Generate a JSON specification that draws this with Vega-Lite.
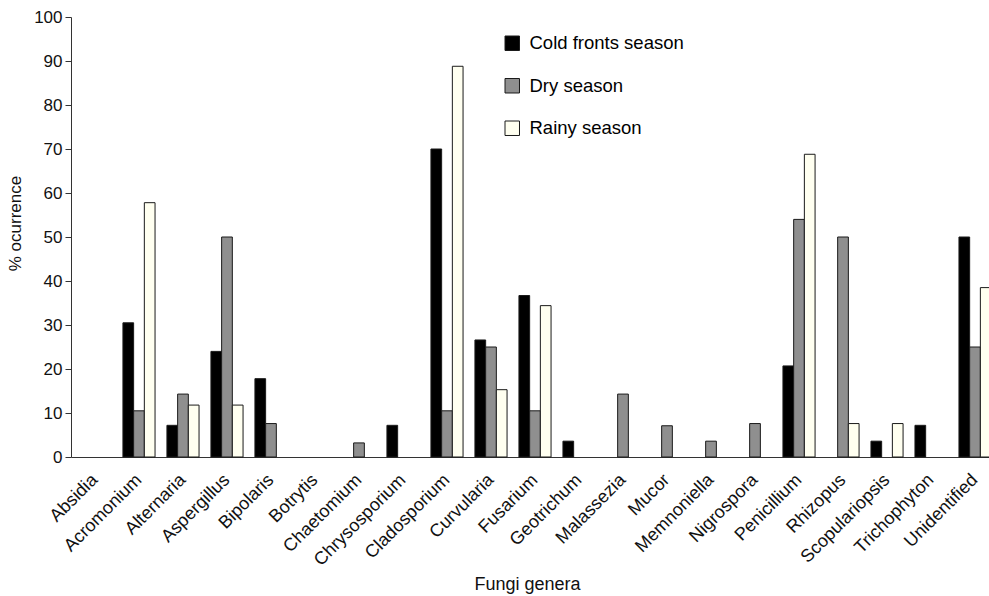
{
  "$schema": "https://vega.github.io/schema/vega-lite/v6.json",
  "width": 918,
  "height": 440,
  "autosize": {"type": "none"},
  "padding": {"left": 71, "top": 17, "right": 0, "bottom": 139},
  "background": "white",
  "config": {
    "view": {"stroke": null},
    "font": "Liberation Sans",
    "axis": {"domainColor": "#333", "tickColor": "#333", "labelColor": "#111", "titleColor": "#111", "grid": false}
  },
  "data": {
    "values": [
      {"genus": "Absidia", "season": "Cold fronts season", "value": 0},
      {"genus": "Absidia", "season": "Dry season", "value": 0},
      {"genus": "Absidia", "season": "Rainy season", "value": 0},
      {"genus": "Acromonium", "season": "Cold fronts season", "value": 30.5},
      {"genus": "Acromonium", "season": "Dry season", "value": 10.5},
      {"genus": "Acromonium", "season": "Rainy season", "value": 57.8},
      {"genus": "Alternaria", "season": "Cold fronts season", "value": 7.2},
      {"genus": "Alternaria", "season": "Dry season", "value": 14.3},
      {"genus": "Alternaria", "season": "Rainy season", "value": 11.8},
      {"genus": "Aspergillus", "season": "Cold fronts season", "value": 24.0},
      {"genus": "Aspergillus", "season": "Dry season", "value": 50},
      {"genus": "Aspergillus", "season": "Rainy season", "value": 11.8},
      {"genus": "Bipolaris", "season": "Cold fronts season", "value": 17.8},
      {"genus": "Bipolaris", "season": "Dry season", "value": 7.6},
      {"genus": "Bipolaris", "season": "Rainy season", "value": 0},
      {"genus": "Botrytis", "season": "Cold fronts season", "value": 0},
      {"genus": "Botrytis", "season": "Dry season", "value": 0},
      {"genus": "Botrytis", "season": "Rainy season", "value": 0},
      {"genus": "Chaetomium", "season": "Cold fronts season", "value": 0},
      {"genus": "Chaetomium", "season": "Dry season", "value": 3.2},
      {"genus": "Chaetomium", "season": "Rainy season", "value": 0},
      {"genus": "Chrysosporium", "season": "Cold fronts season", "value": 7.2},
      {"genus": "Chrysosporium", "season": "Dry season", "value": 0},
      {"genus": "Chrysosporium", "season": "Rainy season", "value": 0},
      {"genus": "Cladosporium", "season": "Cold fronts season", "value": 70},
      {"genus": "Cladosporium", "season": "Dry season", "value": 10.5},
      {"genus": "Cladosporium", "season": "Rainy season", "value": 88.8},
      {"genus": "Curvularia", "season": "Cold fronts season", "value": 26.6},
      {"genus": "Curvularia", "season": "Dry season", "value": 25},
      {"genus": "Curvularia", "season": "Rainy season", "value": 15.3},
      {"genus": "Fusarium", "season": "Cold fronts season", "value": 36.7},
      {"genus": "Fusarium", "season": "Dry season", "value": 10.5},
      {"genus": "Fusarium", "season": "Rainy season", "value": 34.4},
      {"genus": "Geotrichum", "season": "Cold fronts season", "value": 3.6},
      {"genus": "Geotrichum", "season": "Dry season", "value": 0},
      {"genus": "Geotrichum", "season": "Rainy season", "value": 0},
      {"genus": "Malassezia", "season": "Cold fronts season", "value": 0},
      {"genus": "Malassezia", "season": "Dry season", "value": 14.3},
      {"genus": "Malassezia", "season": "Rainy season", "value": 0},
      {"genus": "Mucor", "season": "Cold fronts season", "value": 0},
      {"genus": "Mucor", "season": "Dry season", "value": 7.1},
      {"genus": "Mucor", "season": "Rainy season", "value": 0},
      {"genus": "Memnoniella", "season": "Cold fronts season", "value": 0},
      {"genus": "Memnoniella", "season": "Dry season", "value": 3.6},
      {"genus": "Memnoniella", "season": "Rainy season", "value": 0},
      {"genus": "Nigrospora", "season": "Cold fronts season", "value": 0},
      {"genus": "Nigrospora", "season": "Dry season", "value": 7.6},
      {"genus": "Nigrospora", "season": "Rainy season", "value": 0},
      {"genus": "Penicillium", "season": "Cold fronts season", "value": 20.7},
      {"genus": "Penicillium", "season": "Dry season", "value": 54},
      {"genus": "Penicillium", "season": "Rainy season", "value": 68.8},
      {"genus": "Rhizopus", "season": "Cold fronts season", "value": 0},
      {"genus": "Rhizopus", "season": "Dry season", "value": 50},
      {"genus": "Rhizopus", "season": "Rainy season", "value": 7.6},
      {"genus": "Scopulariopsis", "season": "Cold fronts season", "value": 3.6},
      {"genus": "Scopulariopsis", "season": "Dry season", "value": 0},
      {"genus": "Scopulariopsis", "season": "Rainy season", "value": 7.6},
      {"genus": "Trichophyton", "season": "Cold fronts season", "value": 7.2},
      {"genus": "Trichophyton", "season": "Dry season", "value": 0},
      {"genus": "Trichophyton", "season": "Rainy season", "value": 0},
      {"genus": "Unidentified", "season": "Cold fronts season", "value": 50},
      {"genus": "Unidentified", "season": "Dry season", "value": 25},
      {"genus": "Unidentified", "season": "Rainy season", "value": 38.5}
    ]
  },
  "transform": [{"filter": "datum.value > 0"}],
  "mark": {"type": "bar", "stroke": "#1a1a1a", "strokeWidth": 1},
  "encoding": {
    "x": {
      "field": "genus",
      "type": "nominal",
      "sort": null,
      "scale": {
        "domain": ["Absidia", "Acromonium", "Alternaria", "Aspergillus", "Bipolaris", "Botrytis", "Chaetomium", "Chrysosporium", "Cladosporium", "Curvularia", "Fusarium", "Geotrichum", "Malassezia", "Mucor", "Memnoniella", "Nigrospora", "Penicillium", "Rhizopus", "Scopulariopsis", "Trichophyton", "Unidentified"],
        "paddingInner": 0.27,
        "paddingOuter": 0.18,
        "range": [0, 928]
      },
      "axis": {
        "title": "Fungi genera",
        "titleFontSize": 18,
        "titleFontWeight": "normal",
        "titleY": 118,
        "titleX": 456,
        "labelAngle": -45,
        "labelAlign": "right",
        "labelBaseline": "middle",
        "labelFontSize": 18,
        "labelPadding": 20,
        "ticks": false,
        "labelOverlap": false
      }
    },
    "xOffset": {
      "field": "season",
      "type": "nominal",
      "sort": ["Cold fronts season", "Dry season", "Rainy season"]
    },
    "y": {
      "field": "value",
      "type": "quantitative",
      "scale": {"domain": [0, 100], "nice": false},
      "axis": {
        "title": "% ocurrence",
        "titleFontSize": 17,
        "titleFontWeight": "normal",
        "titleX": -47,
        "titleY": 206,
        "titleAnchor": "middle",
        "values": [0, 10, 20, 30, 40, 50, 60, 70, 80, 90, 100],
        "labelFontSize": 17,
        "tickSize": 6,
        "labelPadding": 3
      }
    },
    "color": {
      "field": "season",
      "type": "nominal",
      "scale": {
        "domain": ["Cold fronts season", "Dry season", "Rainy season"],
        "range": ["#000000", "#8f8f8f", "#fffff0"]
      },
      "legend": {
        "title": null,
        "orient": "none",
        "legendX": 432,
        "legendY": 17,
        "symbolType": "square",
        "symbolSize": 210,
        "symbolStrokeColor": "#1a1a1a",
        "symbolStrokeWidth": 1,
        "labelFontSize": 18.5,
        "labelOffset": 8,
        "rowPadding": 23.5,
        "symbolOpacity": 1
      }
    }
  }
}
